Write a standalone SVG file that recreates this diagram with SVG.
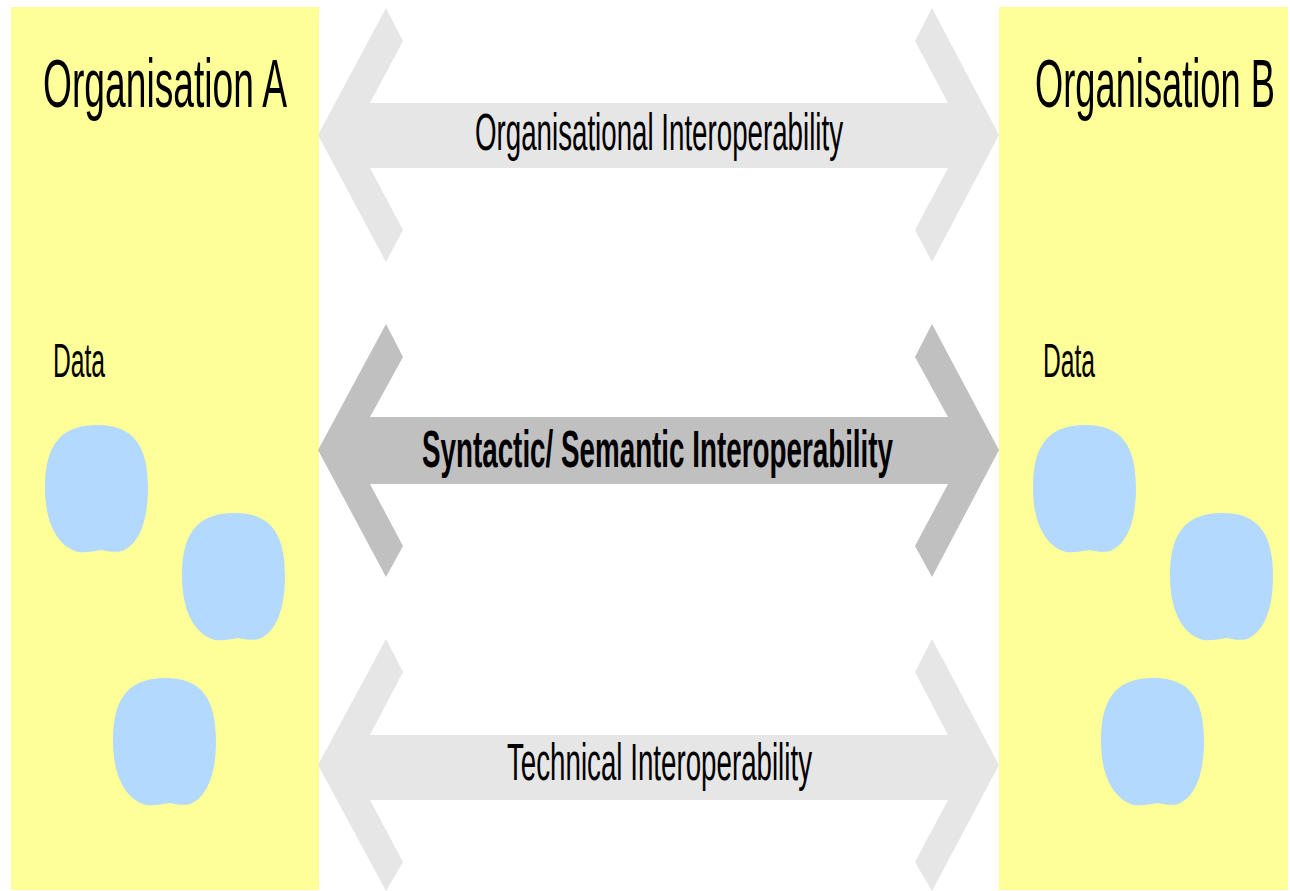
<svg xmlns="http://www.w3.org/2000/svg" xmlns:xlink="http://www.w3.org/1999/xlink" width="1290" height="891" viewBox="0 0 1290 891">
<style>
.org{fill:#ffff99}
.blob{fill:#b3d9ff}
.t{font-family:"Liberation Sans Narrow","Liberation Sans",Arial,sans-serif;fill:#000}
.light{fill:#e6e6e6}
.mid{fill:#c0c0c0}
</style>
<defs>
<path id="blob" d="M50,0 C88,-1 103,20 103,63 C103,98 93,120 77,126 C69,128 63,126 56,125 C49,126 42,128 33,127 C14,122 0,100 0,63 C0,22 14,1 50,0 Z"/>
</defs>
<rect width="1290" height="891" fill="#ffffff"/>
<g id="orgA">
<rect class="org" x="11" y="7" width="308" height="883"/>
<text class="t" x="43" y="107" font-size="68" textLength="244" lengthAdjust="spacingAndGlyphs">Organisation A</text>
<text class="t" x="53" y="377" font-size="48" textLength="52" lengthAdjust="spacingAndGlyphs">Data</text>
<use xlink:href="#blob" class="blob" x="45" y="425"/>
<use xlink:href="#blob" class="blob" x="182" y="513"/>
<use xlink:href="#blob" class="blob" x="113" y="678"/>
</g>
<g id="orgB">
<rect class="org" x="999" y="7" width="289" height="883"/>
<text class="t" x="1035" y="107" font-size="68" textLength="240" lengthAdjust="spacingAndGlyphs">Organisation B</text>
<text class="t" x="1043" y="377" font-size="48" textLength="52" lengthAdjust="spacingAndGlyphs">Data</text>
<use xlink:href="#blob" class="blob" x="1033" y="425"/>
<use xlink:href="#blob" class="blob" x="1170" y="513"/>
<use xlink:href="#blob" class="blob" x="1101" y="678"/>
</g>
<g id="connectors">
<g id="organisational">
<polygon class="light" points="318,135 386,8 403,41 370,103 948,103 915,41 932,8 999,135 932,262 915,230 948,168 370,168 403,230 386,262"/>
<text class="t" x="475" y="150" font-size="51" textLength="368" lengthAdjust="spacingAndGlyphs">Organisational Interoperability</text>
</g>
<g id="semantic">
<polygon class="mid" points="318,450 386,324 403,357 370,417 948,417 915,357 932,324 999,450 932,577 915,546 948,484 370,484 403,546 386,577"/>
<text class="t" x="422" y="467" font-size="52" font-weight="bold" textLength="471" lengthAdjust="spacingAndGlyphs">Syntactic/ Semantic Interoperability</text>
</g>
<g id="technical">
<polygon class="light" points="318,765 386,639 403,672 370,735 948,735 915,672 932,639 999,765 932,891 915,862 948,800 370,800 403,862 386,891"/>
<text class="t" x="507" y="780" font-size="51" textLength="305" lengthAdjust="spacingAndGlyphs">Technical Interoperability</text>
</g>
</g>
</svg>
